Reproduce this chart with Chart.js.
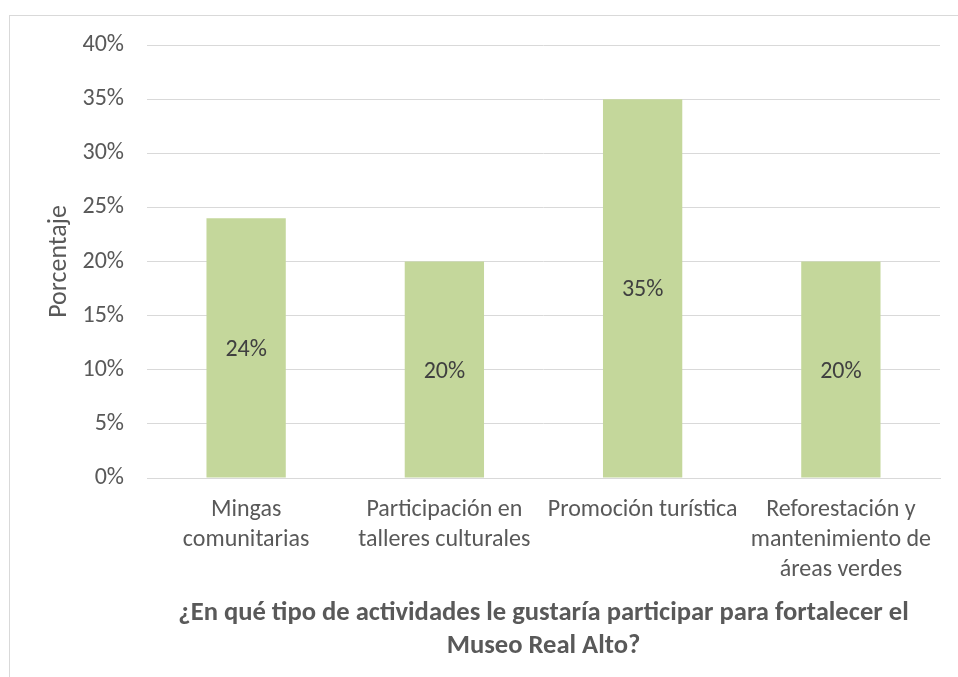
<!DOCTYPE html>
<html><head><meta charset="utf-8">
<script src="https://cdn.jsdelivr.net/npm/chart.js@4/dist/chart.umd.min.js"></script>
<style>
html,body{margin:0;padding:0;background:#fff;}
#wrap{position:relative;width:958px;height:677px;overflow:hidden;}
#frame{position:absolute;left:9px;top:15px;width:1000px;height:700px;border:1px solid #D9D9D9;box-sizing:border-box;}
canvas{position:absolute;left:0;top:0;}
</style></head>
<body><div id="wrap"><div id="frame"></div><canvas id="c" width="958" height="677"></canvas></div>
<script>
const categories = [
  ["Mingas", "comunitarias"],
  ["Participación en", "talleres culturales"],
  ["Promoción turística"],
  ["Reforestación y", "mantenimiento de", "áreas verdes"]
];
const values = [0.24, 0.20, 0.35, 0.20];
const yTicks = [0, 0.05, 0.10, 0.15, 0.20, 0.25, 0.30, 0.35, 0.40];
const yTitle = "Porcentaje";
const xTitle = ["¿En qué tipo de actividades le gustaría participar para fortalecer el", "Museo Real Alto?"];

const FONT = "Carlito, Calibri, Lato, sans-serif";
const pct = v => Math.round(v * 100) + "%";

const labelPlugin = {
  id: 'centerLabels',
  afterDatasetsDraw(chart) {
    const ctx = chart.ctx;
    const meta = chart.getDatasetMeta(0);
    ctx.save();
    ctx.font = "24px " + FONT;
    ctx.fillStyle = "#404040";
    ctx.textAlign = "center";
    ctx.textBaseline = "middle";
    meta.data.forEach((bar, i) => {
      const y = (bar.y + bar.base) / 2 + 2;
      ctx.fillText(pct(values[i]), bar.x, y);
    });
    ctx.restore();
  }
};

new Chart(document.getElementById('c'), {
  type: 'bar',
  data: {
    labels: categories,
    datasets: [{
      data: values,
      backgroundColor: '#C4D79B',
      borderWidth: 0,
      barPercentage: 0.4,
      categoryPercentage: 1.0
    }]
  },
  options: {
    responsive: false,
    animation: false,
    layout: { padding: { left: 44, top: 45, right: 18, bottom: 0 } },
    plugins: { legend: { display: false }, tooltip: { enabled: false } },
    scales: {
      y: {
        min: 0, max: 0.4,
        afterBuildTicks(scale) { scale.ticks = yTicks.map(v => ({ value: v })); },
        afterFit(scale) { scale.width = 147 - 44; },
        ticks: { callback: v => pct(v), color: '#595959', font: { family: FONT, size: 24 }, padding: 23 },
        grid: { color: '#D9D9D9', lineWidth: 1, drawTicks: false },
        border: { display: false },
        title: { display: true, text: yTitle, color: '#595959', font: { family: FONT, size: 26, lineHeight: 1.2 }, padding: { top: 0, bottom: 0 } }
      },
      x: {
        afterFit(scale) { scale.height = 677 - 478; },
        ticks: { color: '#595959', font: { family: FONT, size: 24, lineHeight: 30/24 }, padding: 9, maxRotation: 0, autoSkip: false },
        grid: { display: false },
        border: { display: true, color: '#D9D9D9', width: 1 },
        title: { display: true, text: xTitle, color: '#595959', font: { family: FONT, size: 26.6, weight: 'bold', lineHeight: 33/26.6 }, padding: { top: 0, bottom: 14.5 } }
      }
    }
  },
  plugins: [labelPlugin]
});
</script></body></html>
